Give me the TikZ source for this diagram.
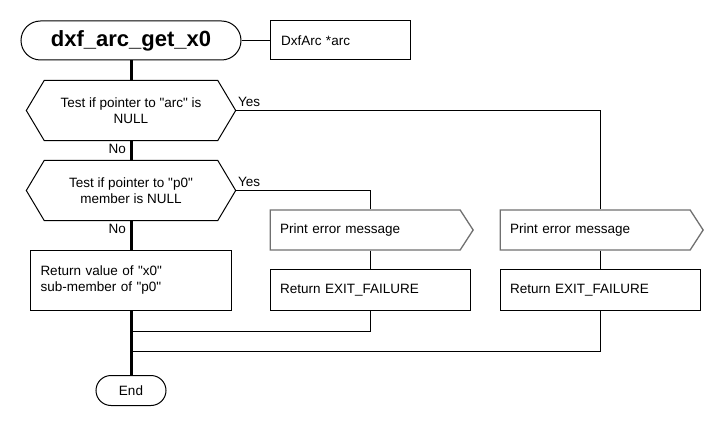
\documentclass[tikz,border=0pt]{standalone}
\usepackage{fontspec}
\setmainfont{Liberation Sans}[Ligatures=TeXOff]
\usepackage{xcolor}
\usetikzlibrary{shapes.symbols, positioning}
\definecolor{msgline}{HTML}{707070}
\tikzstyle{terminal} = [rectangle, rounded corners=19.5pt, minimum width=220pt, minimum height=39pt, text centered, draw=black, line width=1pt]
\tikzstyle{decision} = [rectangle, minimum width=209pt, minimum height=60pt, text centered, align=center]
\tikzstyle{process} = [rectangle, minimum width=200pt, minimum height=40pt, text width=180pt, inner xsep=10pt, align=left, draw=black, line width=1pt]
\tikzstyle{message} = [signal, signal to=east, signal pointer angle=114, minimum width=197pt, minimum height=40pt, text width=170pt, inner xsep=10pt, align=left, draw=msgline, line width=1.3pt]
\tikzstyle{answer} = [inner sep=2pt]
\tikzstyle{mainline} = [line width=3pt]
\tikzstyle{branch} = [line width=1pt]

\begin{document}
\begin{tikzpicture}[x=1pt, y=-1pt, node distance=80pt, font=\fontsize{13.5}{16}\selectfont]
   \useasboundingbox (0,0) rectangle (720,430);
   \node (title) [terminal, font=\fontsize{22}{26}\selectfont\bfseries] at (131,40.5) {dxf\_arc\_get\_x0};
   \node (args) [process, minimum width=140pt, text width=118pt, minimum height=39pt] at (340,40.5) {DxfArc *arc};
   \node (d1) [decision, below of=title, yshift=10pt] {Test if pointer to "arc" is\\NULL};
   \node (d2) [decision, below of=d1] {Test if pointer to "p0"\\member is NULL};
   \node (ret) [process, below of=d2, yshift=-10pt, minimum height=60pt, text width=181pt] {Return value of "x0"\\sub-member of "p0"};
   \node (end) [terminal, below of=ret, yshift=-30pt, minimum width=70pt, minimum height=30pt, rounded corners=15pt] {End};
   \node (fail1) [process] at (370,290) {Return EXIT\_FAILURE};
   \node (fail2) [process] at (600,290) {Return EXIT\_FAILURE};
   \node (msg1) [message, anchor=west] at ([yshift=60pt]fail1.west) {Print error message};
   \node (msg2) [message, anchor=west] at ([yshift=60pt]fail2.west) {Print error message};
   % hexagon outlines of the two tests
   \foreach \t in {d1,d2}
      \draw [branch, line join=miter] (\t.west) -- ([xshift=18pt]\t.north west) -- ([xshift=-18pt]\t.north east)
         -- (\t.east) -- ([xshift=-18pt]\t.south east) -- ([xshift=18pt]\t.south west) -- cycle;
   \coordinate (j1) at ([yshift=-20pt]ret.south);
   \coordinate (j2) at ([yshift=-40pt]ret.south);
   \draw [mainline] (title) -- (d1);
   \draw [mainline] (d1.south) -- node[answer, pos=0, anchor=north east, xshift=-1.5pt] {No} (d2.north);
   \draw [mainline] (d2.south) -- node[answer, pos=0, anchor=north east, xshift=-1.5pt] {No} (ret.north);
   \draw [mainline] (ret.south) -- (end.north);
   \draw [branch] (title) -- (args);
   \draw [branch] (d1.east) -| node[answer, pos=0, anchor=south west, yshift=1pt] {Yes} (fail2 |- msg2.north);
   \draw [branch] (d2.east) -| node[answer, pos=0, anchor=south west, yshift=1pt] {Yes} (fail1 |- msg1.north);
   \draw [branch] (fail1 |- msg1.south) -- (fail1);
   \draw [branch] (fail2 |- msg2.south) -- (fail2);
   \draw [branch] (fail1.south) |- (j1);
   \draw [branch] (fail2.south) |- (j2);
\end{tikzpicture}
\end{document}
